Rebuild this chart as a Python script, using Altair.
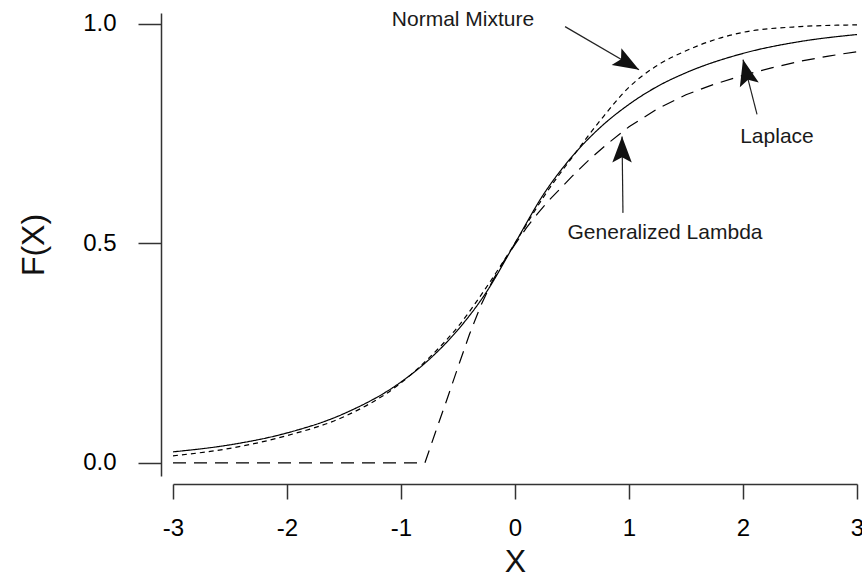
import altair as alt
import pandas as pd

# ---- data ----
x_laplace = [-3, -2.5, -2, -1.5, -1, -0.75, -0.5, -0.25, 0, 0.25, 0.5, 0.75, 1, 1.25, 1.5, 2, 2.5, 3]
f_laplace = [0.025, 0.041, 0.068, 0.112, 0.184, 0.236, 0.303, 0.389, 0.5, 0.611, 0.697, 0.764,
             0.816, 0.857, 0.888, 0.932, 0.959, 0.975]

x_normmix = [-3, -2.5, -2, -1.5, -1, -0.75, -0.5, -0.25, 0, 0.25, 0.5, 0.75, 1, 1.25, 1.5, 1.75, 2, 2.5, 3]
f_normmix = [0.016, 0.033, 0.062, 0.105, 0.182, 0.240, 0.310, 0.400, 0.5, 0.605, 0.695, 0.780,
             0.855, 0.905, 0.938, 0.963, 0.980, 0.993, 0.997]

x_genlam = [-3, -0.79, -0.7, -0.6, -0.5, -0.4, -0.3, -0.2, -0.1, 0, 0.1, 0.2, 0.3, 0.4, 0.5,
            0.65, 0.8, 1.0, 1.25, 1.5, 1.75, 2.0, 2.25, 2.5, 2.75, 3.0]
f_genlam = [0, 0, 0.068, 0.142, 0.218, 0.292, 0.358, 0.413, 0.458, 0.497, 0.535, 0.568, 0.598,
            0.625, 0.652, 0.690, 0.724, 0.765, 0.806, 0.838, 0.862, 0.882, 0.899, 0.914, 0.926, 0.936]

x_ticks = [-3, -2, -1, 0, 1, 2, 3]
y_ticks = [0, 0.5, 1.0]

labels = ["Normal Mixture", "Laplace", "Generalized Lambda"]
label_x = [-0.456, 2.298, 1.316]
label_f = [0.995, 0.729, 0.510]

arrow_x0 = [0.439, 2.123, 0.947]
arrow_f0 = [0.993, 0.793, 0.569]
arrow_x1 = [1.088, 2.0, 0.939]
arrow_f1 = [0.895, 0.918, 0.743]
arrow_angle = [120, 346, 0]

# ---- tables ----
lap = pd.DataFrame({"x": x_laplace, "F": f_laplace, "curve": "Laplace"})
nm = pd.DataFrame({"x": x_normmix, "F": f_normmix, "curve": "Normal Mixture"})
gl = pd.DataFrame({"x": x_genlam, "F": f_genlam, "curve": "Generalized Lambda"})
txt = pd.DataFrame({"x": label_x, "F": label_f, "label": labels})
arr = pd.DataFrame({"x": arrow_x0, "F": arrow_f0, "x_end": arrow_x1, "F_end": arrow_f1,
                    "angle": arrow_angle})
heads = pd.DataFrame({"x": arrow_x1, "F": arrow_f1, "angle": arrow_angle})

FONT = "Liberation Sans"
xscale = alt.Scale(domain=[-3, 3], nice=False, zero=False)
yscale = alt.Scale(domain=[-0.03, 1.024], nice=False, zero=False)

x_axis = alt.Axis(values=x_ticks, labelExpr="'' + datum.value", title="X", offset=8, tickSize=15,
                  labelPadding=17, titlePadding=6, labelFlush=False, grid=False)
y_axis = alt.Axis(values=y_ticks, format=".1f", title="F(X)", offset=12, tickSize=23,
                  labelPadding=22, titlePadding=32, grid=False)

X = alt.X("x:Q", scale=xscale, axis=x_axis)
Y = alt.Y("F:Q", scale=yscale, axis=y_axis)

dash_scale = alt.Scale(domain=["Laplace", "Normal Mixture", "Generalized Lambda"],
                       range=[[1, 0], [5, 4], [13, 8]])

def curve_layer(df, interp):
    return alt.Chart(df).mark_line(color="black", strokeWidth=1.2, interpolate=interp).encode(
        x=X, y=Y,
        strokeDash=alt.StrokeDash("curve:N", scale=dash_scale, legend=None),
    )

l_lap = curve_layer(lap, "monotone")
l_nm = curve_layer(nm, "monotone")
l_gl = curve_layer(gl, "linear")

rules = alt.Chart(arr).mark_rule(color="#222", strokeWidth=1.2).encode(
    x=X, y=Y, x2="x_end:Q", y2="F_end:Q"
)

head_shape = "M0,0L0.75,2L0,1.6L-0.75,2Z"
arrowheads = alt.Chart(heads).mark_point(
    shape=head_shape, filled=True, size=676, color="#111", opacity=1, strokeWidth=0
).encode(x=X, y=Y, angle=alt.Angle("angle:Q", scale=None))

texts = alt.Chart(txt).mark_text(
    font=FONT, fontSize=21, align="center", baseline="alphabetic", color="#1a1a1a"
).encode(x=X, y=Y, text="label:N")

chart = alt.layer(l_lap, l_nm, l_gl, rules, arrowheads, texts).properties(
    width=684, height=463,
    autosize=alt.AutoSizeParams(type="none"),
    padding={"left": 173, "top": 13, "right": 5, "bottom": 102},
    background="white",
).configure_view(stroke=None).configure_axis(
    labelFont=FONT, labelFontSize=24, labelColor="#000",
    titleFont=FONT, titleFontSize=32, titleFontWeight="normal", titleColor="#111",
    domainColor="#333", domainWidth=1.5, tickColor="#333", tickWidth=1.5,
)

chart.save("out.html", embed_options={"renderer": "svg", "actions": False})
